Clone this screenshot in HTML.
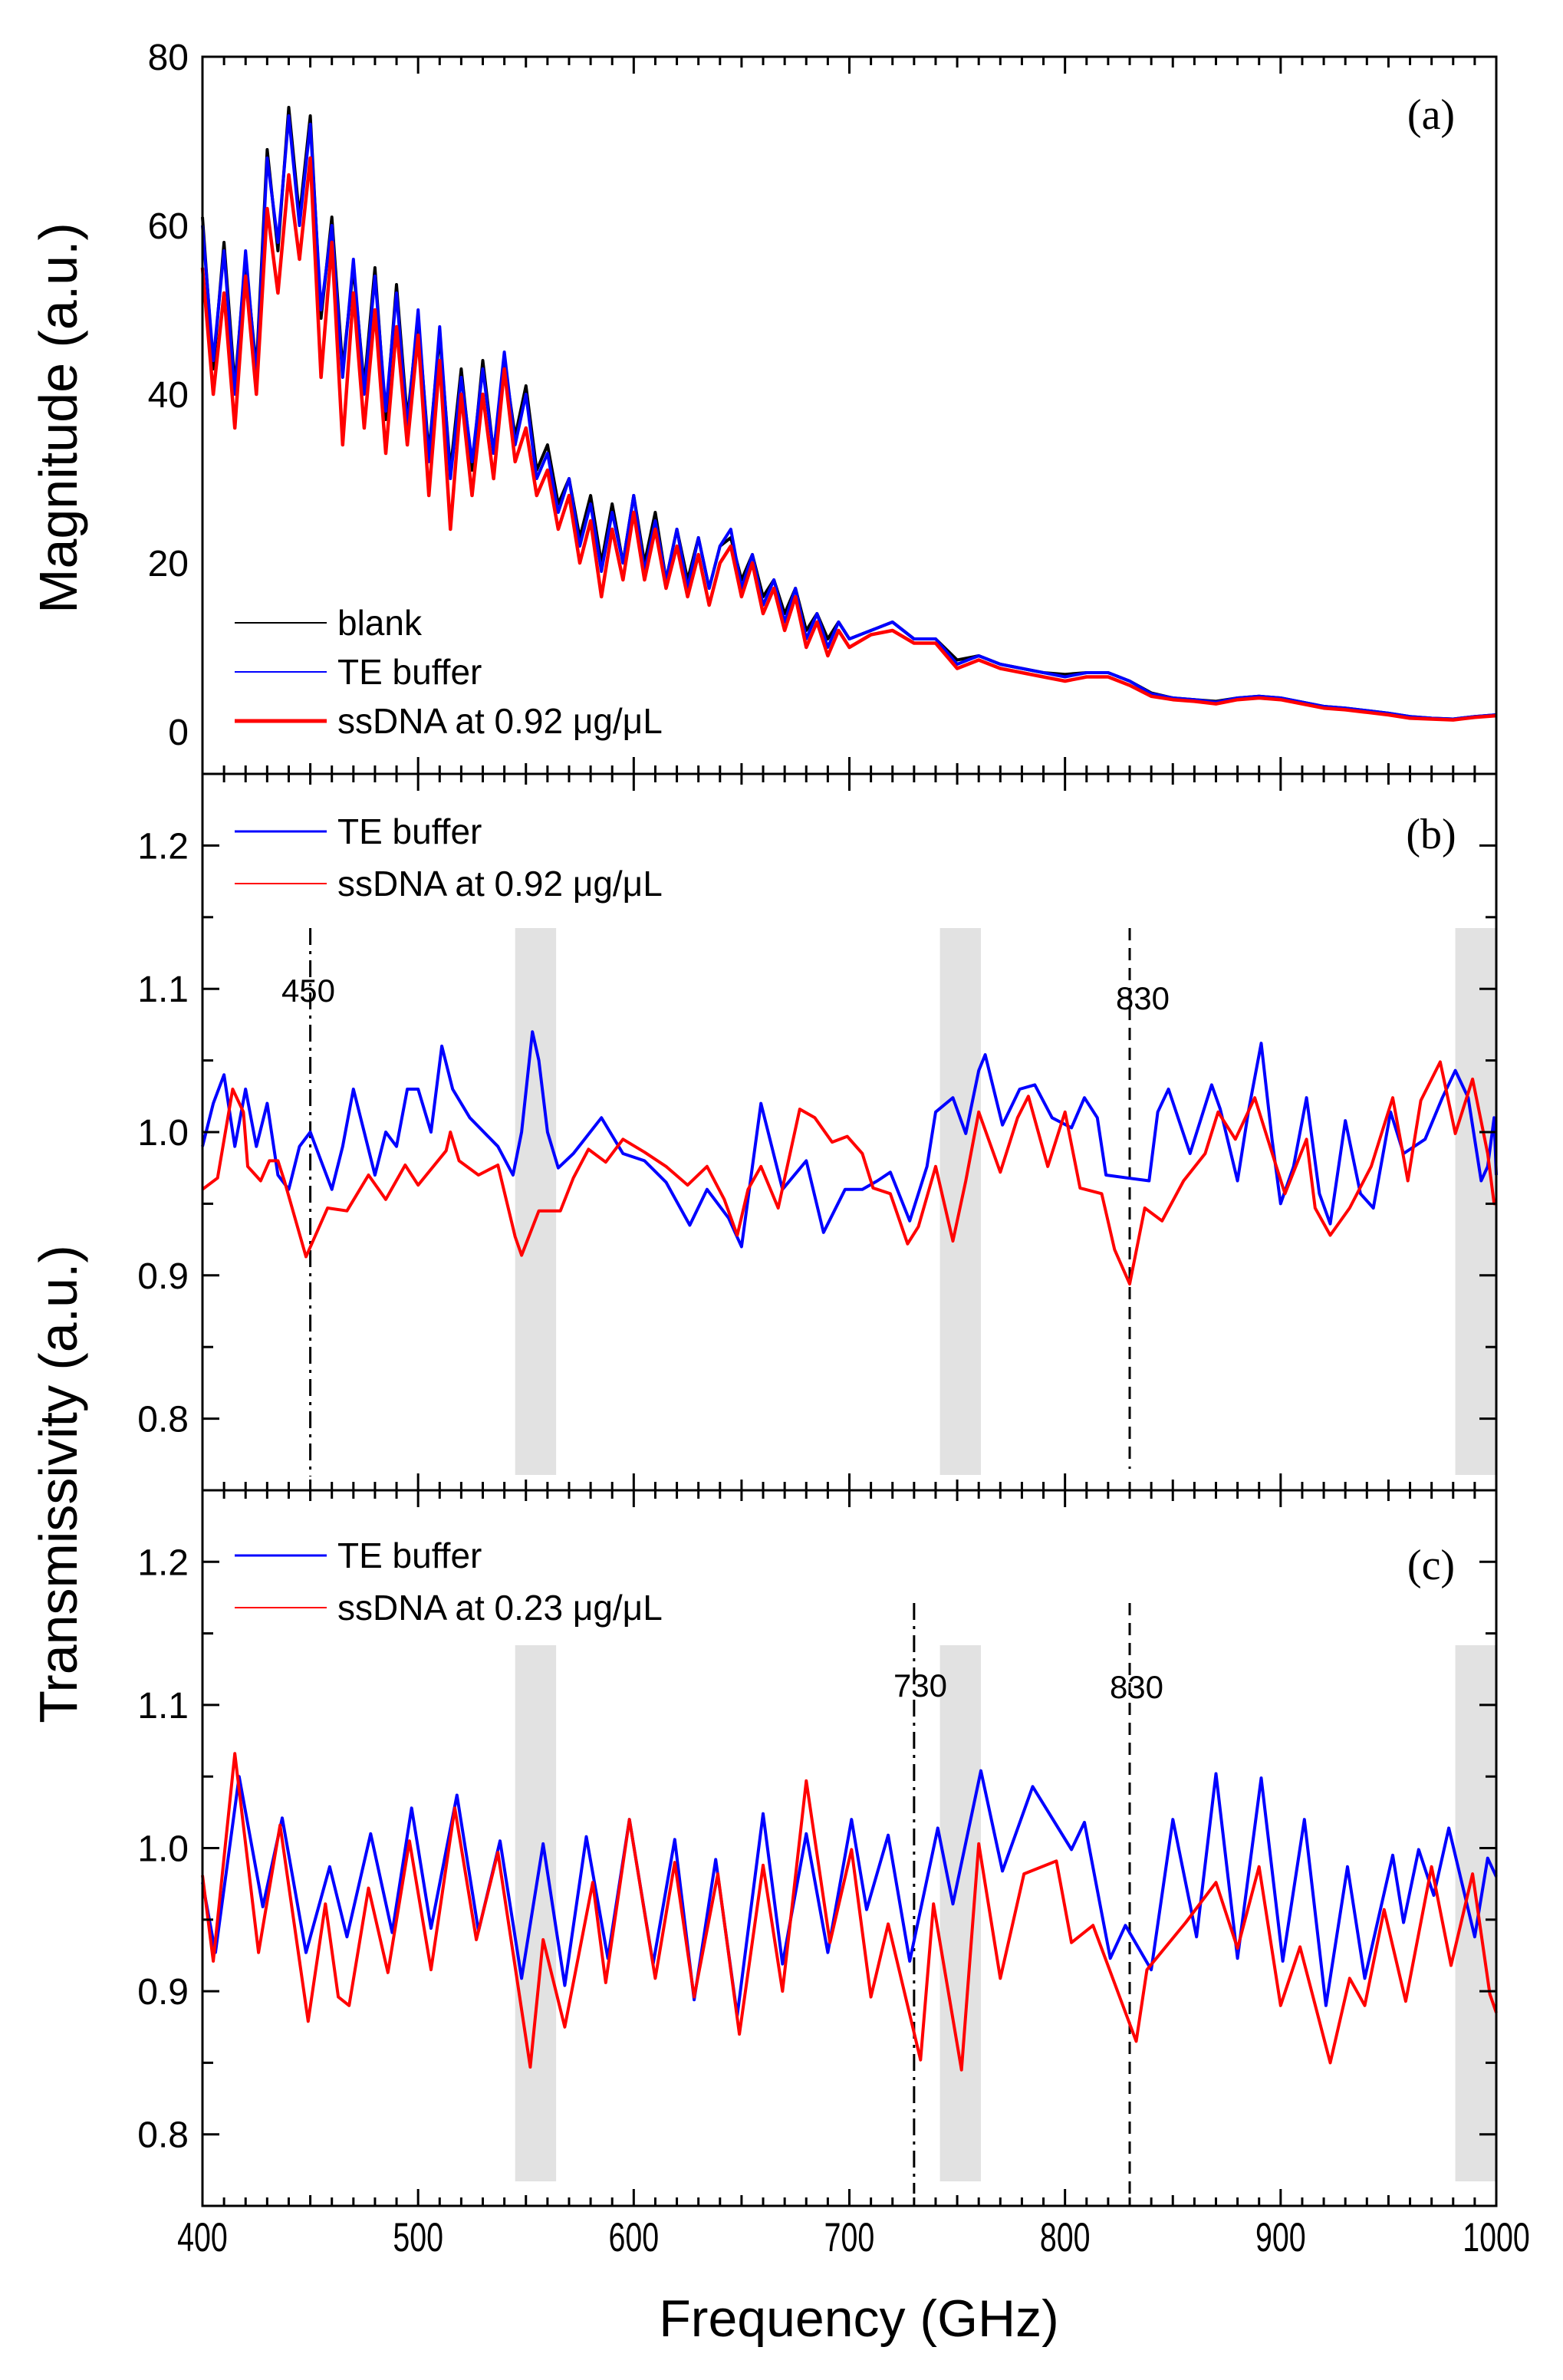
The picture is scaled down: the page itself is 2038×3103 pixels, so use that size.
<!DOCTYPE html>
<html><head><meta charset="utf-8">
<style>
html,body{margin:0;padding:0;background:#fff;}
svg{display:block;font-family:"Liberation Sans",sans-serif;}
</style></head>
<body>
<svg id="chart" width="2038" height="3103" viewBox="0 0 2038 3103" xmlns="http://www.w3.org/2000/svg">
<rect width="2038" height="3103" fill="#fff"/>
<g id="layer"></g>
</svg>
<script>
// ---------- data ----------
const freqA = [400,405,410,415,420,425,430,435,440,445,450,455,460,465,470,475,480,485,490,495,500,505,510,515,520,525,530,535,540,545,550,555,560,565,570,575,580,585,590,595,600,605,610,615,620,625,630,635,640,645,650,655,660,665,670,675,680,685,690,695,700,710,720,730,740,750,760,770,780,790,800,810,820,830,840,850,860,870,880,890,900,910,920,930,940,950,960,970,980,990,1000];
const blankA = [61,43,58,41,56,43,69,57,74,61,73,49,61,43,55,41,55,37,53,37,49,33,47,31,43,31,44,33,44,35,41,31,34,27,30,23,28,20,27,20,28,20,26,18,24,18,23,17,22,23,18,21,16,18,14,17,12,14,11,13,11,12,13,11,11,8.5,9,8,7.5,7,6.8,7,7,6,4.6,4,3.8,3.6,4,4.2,4,3.5,3,2.8,2.5,2.2,1.8,1.6,1.5,1.8,2];
const teA = [60,44,57,40,57,42,68,58,73,60,72,50,60,42,56,40,54,38,52,36,50,32,48,30,42,32,43,33,45,34,40,30,33,26,30,22,27,19,26,20,28,19,25,18,24,17,23,17,22,24,17,21,15,18,13,17,11,14,10,13,11,12,13,11,11,8,9,8,7.5,7,6.5,7,7,6,4.5,4,3.8,3.5,4,4.2,4,3.5,3,2.8,2.5,2.2,1.8,1.6,1.5,1.8,2];
const dnaA = [55,40,52,36,54,40,62,52,66,56,68,42,58,34,52,36,50,33,48,34,47,28,44,24,40,28,40,30,43,32,36,28,31,24,28,20,25,16,24,18,26,18,24,17,22,16,21,15,20,22,16,20,14,17,12,16,10,13,9,12,10,11.5,12,10.5,10.5,7.5,8.5,7.5,7,6.5,6,6.5,6.5,5.5,4.2,3.8,3.6,3.3,3.8,4,3.8,3.3,2.8,2.6,2.3,2,1.6,1.5,1.4,1.7,1.9];

const freqB1 = [400,405,410,415,420,425,430,435,440,445,450,455,460,465,470,475,480,485,490,495,500,506,511,516,524,537,544,548,553,556,560,565,572,585,595,605,615,626,634,644,650,659,669,680,688,698,706,713,719,728,736,740,748,754,760,763,771,779,786,794,803,809,815,819,829,839,843,848,858,868,872,880,885,891,896,900,906,912,918,923,930,937,943,951,957,967,975,981,987,993,996,999,1000];
const teB = [0.99,1.02,1.04,0.99,1.03,0.99,1.02,0.97,0.96,0.99,1.0,0.98,0.96,0.99,1.03,1.0,0.97,1.0,0.99,1.03,1.03,1.0,1.06,1.03,1.01,0.99,0.97,1.0,1.07,1.05,1.0,0.975,0.985,1.01,0.985,0.98,0.965,0.935,0.96,0.94,0.92,1.02,0.96,0.98,0.93,0.96,0.96,0.966,0.972,0.938,0.976,1.014,1.024,0.999,1.043,1.054,1.005,1.03,1.033,1.01,1.003,1.024,1.01,0.97,0.968,0.966,1.014,1.03,0.985,1.033,1.016,0.966,1.014,1.062,0.995,0.95,0.976,1.024,0.957,0.936,1.008,0.957,0.947,1.014,0.985,0.995,1.024,1.043,1.024,0.966,0.976,1.01,0.97];
const freqB2 = [400,407,414,419,421,427,431,435,438,448,458,467,477,485,494,500,513,515,519,528,537,545,548,556,566,572,579,587,595,605,615,625,634,642,648,653,659,667,677,684,692,699,706,711,719,727,732,740,748,754,760,770,778,783,792,800,807,817,823,830,837,845,855,865,871,879,888,898,902,912,916,923,932,942,952,959,965,974,981,989,996,999,1000];
const dnaB = [0.96,0.968,1.03,1.014,0.976,0.966,0.98,0.98,0.966,0.913,0.947,0.945,0.97,0.953,0.977,0.963,0.987,1.0,0.98,0.97,0.977,0.927,0.914,0.945,0.945,0.968,0.988,0.979,0.995,0.986,0.976,0.963,0.976,0.953,0.928,0.96,0.976,0.947,1.016,1.01,0.993,0.997,0.985,0.961,0.957,0.922,0.934,0.976,0.924,0.966,1.014,0.972,1.01,1.025,0.976,1.014,0.961,0.957,0.918,0.894,0.947,0.938,0.966,0.985,1.014,0.995,1.024,0.976,0.957,0.995,0.947,0.928,0.947,0.976,1.024,0.966,1.022,1.049,0.999,1.037,0.985,0.95,0.95];

const freqC1 = [400,406,417,428,437,448,459,467,478,488,497,506,518,528,538,548,558,568,578,588,598,609,619,628,638,648,660,669,680,690,701,708,718,728,741,748,761,771,785,803,809,821,828,840,850,861,870,880,891,901,911,921,931,939,952,957,964,971,978,990,996,1000];
const teC = [0.976,0.927,1.05,0.959,1.021,0.927,0.987,0.938,1.01,0.941,1.028,0.944,1.037,0.942,1.005,0.909,1.003,0.904,1.008,0.923,1.02,0.919,1.006,0.894,0.992,0.883,1.024,0.919,1.01,0.927,1.02,0.957,1.009,0.921,1.014,0.961,1.054,0.984,1.043,0.999,1.018,0.923,0.946,0.915,1.02,0.938,1.052,0.923,1.049,0.921,1.02,0.89,0.987,0.909,0.995,0.948,0.999,0.967,1.014,0.938,0.993,0.98];
const freqC2 = [400,405,415,426,436,449,457,463,468,477,486,496,506,517,527,537,552,558,568,581,587,598,610,619,628,639,649,660,669,680,691,701,710,718,733,739,752,760,770,781,796,803,813,833,838,856,870,880,890,900,909,923,932,939,948,958,970,979,989,997,1000];
const dnaC = [0.981,0.921,1.066,0.927,1.016,0.879,0.961,0.896,0.89,0.972,0.913,1.005,0.915,1.028,0.936,0.997,0.847,0.936,0.875,0.976,0.906,1.02,0.909,0.99,0.896,0.982,0.87,0.988,0.9,1.047,0.934,0.999,0.896,0.947,0.852,0.961,0.845,1.003,0.909,0.982,0.991,0.934,0.946,0.865,0.915,0.948,0.976,0.93,0.987,0.89,0.931,0.85,0.909,0.89,0.957,0.893,0.987,0.918,0.982,0.898,0.885];

const xTicks = [400,500,600,700,800,900,1000];
const aTicks = [0,20,40,60,80];
const tTicks = [0.8,0.9,1.0,1.1,1.2];
const bands = [[545,564],[742,761],[981,1000]];

// ---------- layout ----------
const X0=264, X1=1951;
const P = {
  a:{top:74,bot:1009,min:-5,max:80},
  b:{top:1009,bot:1943,min:0.75,max:1.25},
  c:{top:1943,bot:2876,min:0.75,max:1.25}
};
const NS="http://www.w3.org/2000/svg";
const layer=document.getElementById('layer');
function xs(f){return X0+(f-400)/600*(X1-X0);}
function ys(p,v){return p.bot-(v-p.min)/(p.max-p.min)*(p.bot-p.top);}
function mk(tag,attrs,parent){const e=document.createElementNS(NS,tag);for(const k in attrs)e.setAttribute(k,attrs[k]);(parent||layer).appendChild(e);return e;}

['b','c'].forEach(k=>{
  const t = k==='b'?1210:2145, bt = k==='b'?1923:2844;
  bands.forEach(bd=>{
    const r=mk('rect',{x:xs(bd[0]),y:t,width:xs(bd[1])-xs(bd[0]),height:bt-t,fill:'#e2e2e2'});
    
    
  });
});

function vline(f,y1,y2,dash,name){
  const l=mk('line',{x1:xs(f),x2:xs(f),y1:y1,y2:y2,stroke:'#000','stroke-width':3,'stroke-dasharray':dash});
  
  
}
vline(450,1210,1925,'22 8 4 8','ref-line-450');
vline(830,1210,1915,'16 10','ref-line-830-b');
vline(730,2090,2860,'22 8 4 8','ref-line-730');
vline(830,2090,2860,'16 10','ref-line-830-c');

function series(p,fr,vals,color,w,name){
  const pts=fr.map((f,i)=>xs(f).toFixed(1)+','+ys(p,vals[i]).toFixed(1)).join(' ');
  const pl=mk('polyline',{points:pts,fill:'none',stroke:color,'stroke-width':w,'stroke-linejoin':'round'});
  
  
}
series(P.a,freqA,blankA,'#000',4,'blank-line');
series(P.a,freqA,teA,'#0000ff',4,'te-buffer-line-a');
series(P.a,freqA,dnaA,'#ff0000',4.5,'ssdna-line-a');
series(P.b,freqB1,teB,'#0000ff',4,'te-buffer-line-b');
series(P.b,freqB2,dnaB,'#ff0000',4,'ssdna-line-b');
series(P.c,freqC1,teC,'#0000ff',4,'te-buffer-line-c');
series(P.c,freqC2,dnaC,'#ff0000',4,'ssdna-line-c');

function txt(x,y,s,size,anchor,name,extra){
  const t=mk('text',Object.assign({x:x,y:y,'font-size':size,'text-anchor':anchor||'start',fill:'#000'},extra||{}));
  t.textContent=s;
  
  
  return t;
}
Object.keys(P).forEach(k=>{
  const p=P[k];
  const fr=mk('rect',{x:X0,y:p.top,width:X1-X0,height:p.bot-p.top,fill:'none',stroke:'#000','stroke-width':3});
  
  
  for(let f=400;f<=1000;f+=10){
    const L=(f%100===0)?22:(f%50===0?14:11);
    mk('line',{x1:xs(f),x2:xs(f),y1:p.bot,y2:p.bot-L,stroke:'#000','stroke-width':3});
    mk('line',{x1:xs(f),x2:xs(f),y1:p.top,y2:p.top+L,stroke:'#000','stroke-width':3});
  }
  const ticks = k==='a'?aTicks:tTicks;
  const minorStep = k==='a'?10:0.05;
  for(let v=p.min;v<=p.max+1e-9;v+=minorStep){
    const vv=Math.round(v*1000)/1000;
    const isMaj=ticks.some(t=>Math.abs(t-vv)<1e-6);
    if(k==='a' && vv%10!==0) continue;
    const L=isMaj?22:14;
    const y=ys(p,vv);
    if(y<p.top+2||y>p.bot-2) continue;
    mk('line',{x1:X0,x2:X0+L,y1:y,y2:y,stroke:'#000','stroke-width':3});
    mk('line',{x1:X1,x2:X1-L,y1:y,y2:y,stroke:'#000','stroke-width':3});
  }
  ticks.forEach(v=>{
    const s = k==='a'? String(v) : v.toFixed(1);
    txt(246,ys(p,v)+17,s,48,'end','y-tick-label-'+k);
  });
});
xTicks.forEach(f=>{
  txt(xs(f),2935,String(f),48,'middle','x-tick-label',{transform:'translate('+xs(f)+',2935) scale(0.82,1.1) translate('+(-xs(f))+',-2935)'});
});

txt(0,0,'Magnitude  (a.u.)',70,'middle','y-axis-title-magnitude',{transform:'translate(100,545) rotate(-90)'});
txt(0,0,'Transmissivity  (a.u.)',70,'middle','y-axis-title-transmissivity',{transform:'translate(100,1935) rotate(-90)'});
txt(1120,3046,'Frequency (GHz)',68,'middle','x-axis-title');

txt(1866,168,'(a)',56,'middle','panel-label-a',{'font-family':'Liberation Serif'});
txt(1866,1106,'(b)',56,'middle','panel-label-b',{'font-family':'Liberation Serif'});
txt(1866,2059,'(c)',56,'middle','panel-label-c',{'font-family':'Liberation Serif'});

txt(402,1306,'450',42,'middle','annotation-450');
txt(1490,1316,'830',42,'middle','annotation-830-b');
txt(1200,2212,'730',42,'middle','annotation-730');
txt(1482,2214,'830',42,'middle','annotation-830-c');

function leg(y,color,w,label,name){
  const l=mk('line',{x1:306,x2:426,y1:y,y2:y,stroke:color,'stroke-width':w});
  
  
  txt(440,y+16,label,46,'start',name+'-label');
}
leg(812,'#000',2,'blank','legend-blank');
leg(876,'#0000ff',2,'TE buffer','legend-te-buffer-a');
leg(940,'#ff0000',5,'ssDNA at 0.92 μg/μL','legend-ssdna-a');
leg(1084,'#0000ff',3,'TE buffer','legend-te-buffer-b');
leg(1152,'#ff0000',2,'ssDNA at 0.92 μg/μL','legend-ssdna-b');
leg(2028,'#0000ff',3,'TE buffer','legend-te-buffer-c');
leg(2096,'#ff0000',2,'ssDNA at 0.23 μg/μL','legend-ssdna-c');
</script>
</body></html>
